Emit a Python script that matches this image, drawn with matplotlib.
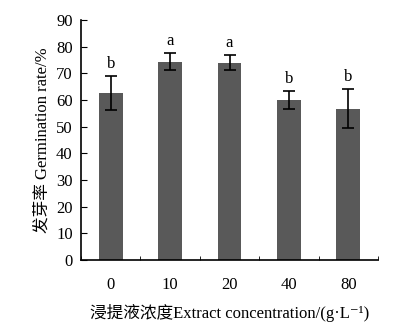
import numpy as np
import matplotlib.pyplot as plt

plt.rcParams['font.family'] = ['Liberation Serif', 'Noto Sans CJK SC', 'DejaVu Sans']

concentrations = ['0', '10', '20', '40', '80']
germination = [62.6, 74.4, 73.9, 59.9, 56.7]
errors = [6.5, 3.3, 2.8, 3.3, 7.3]
letters = ['b', 'a', 'a', 'b', 'b']

fig = plt.figure(figsize=(3.98, 3.31), dpi=100)
ax = fig.add_axes([81 / 398, 71 / 331, 297 / 398, 240 / 331])

x = np.arange(len(concentrations))
ax.bar(x, germination, width=0.4, color='#595959', zorder=2)
ax.errorbar(x, germination, yerr=errors, fmt='none', ecolor='black',
            elinewidth=1.2, capsize=4, capthick=1.2, zorder=3)
for xi, v, e, t in zip(x, germination, errors, letters):
    ax.text(xi, v + e + 1.5, t, ha='center', va='bottom', fontsize=12)

ax.set_xlim(-0.5, 4.5)
ax.set_ylim(0, 90)
ax.set_yticks(range(0, 91, 10))
ax.set_xticks(x)
ax.set_xticklabels(concentrations)
ax.set_xticks(np.arange(-0.5, 5, 1), minor=True)
ax.tick_params(axis='y', direction='in', length=4, labelsize=12, pad=6)
ax.tick_params(axis='x', which='major', length=0, labelsize=12, pad=12)
ax.tick_params(axis='x', which='minor', direction='in', length=3)
ax.spines['top'].set_visible(False)
ax.spines['right'].set_visible(False)
ax.spines['left'].set_linewidth(1.2)
ax.spines['bottom'].set_linewidth(1.2)

ax.set_ylabel('发芽率 Germination rate/%', fontsize=12, labelpad=4)
ax.set_xlabel('浸提液浓度Extract concentration/(g·L⁻¹)', fontsize=12, labelpad=8)

fig.savefig('out.png', dpi=100)
